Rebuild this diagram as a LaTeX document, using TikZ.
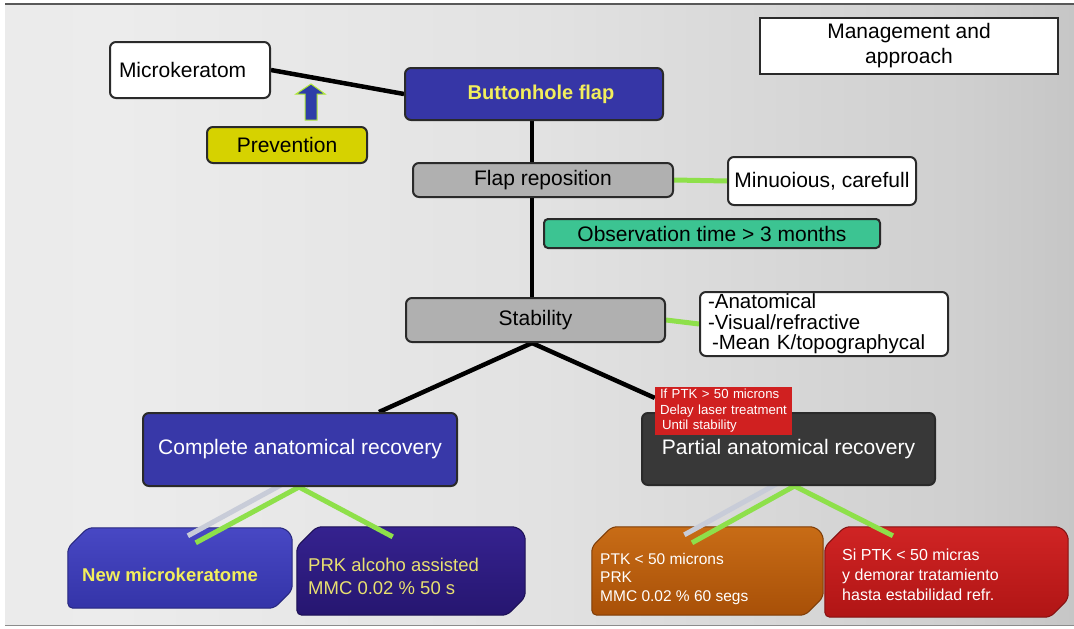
\documentclass[tikz,border=0pt]{standalone}
\usepackage{fontspec}
\setmainfont{Liberation Sans}
\usetikzlibrary{calc}
\pgfdeclarelayer{back}
\pgfdeclarelayer{mid}
\pgfsetlayers{back,mid,main}
\definecolor{bgA}{HTML}{A8A8A8}
\definecolor{bgA2}{HTML}{D2D2D2}
\definecolor{bgB}{HTML}{E6E6E6}
\definecolor{bgB2}{HTML}{ECECEC}
\definecolor{bgC}{HTML}{E2E2E2}
\definecolor{bgD}{HTML}{CFCFCF}
\definecolor{bgE}{HTML}{B4B4B4}
\definecolor{bgF}{HTML}{9A9A9A}
\definecolor{bgG}{HTML}{6C6C6C}
\pgfdeclarehorizontalshading{bgsh}{100bp}{color(0bp)=(bgA); color(3bp)=(bgA2); color(8bp)=(bgB); color(30bp)=(bgB2); color(50bp)=(bgC); color(70bp)=(bgD); color(85bp)=(bgE); color(93bp)=(bgF); color(100bp)=(bgG)}
\definecolor{edge}{HTML}{2A2A2A}
\definecolor{bhblue}{HTML}{3636A6}
\definecolor{ytext}{HTML}{F2EE5C}
\definecolor{prevy}{HTML}{D6D200}
\definecolor{gbox}{HTML}{B0B0B0}
\definecolor{obsteal}{HTML}{3CC492}
\definecolor{compblue}{HTML}{3838A8}
\definecolor{partdark}{HTML}{383838}
\definecolor{notered}{HTML}{D02020}
\definecolor{lgreen}{HTML}{8EE04A}
\definecolor{lshade}{HTML}{C8CCD8}
\definecolor{arrblue}{HTML}{2E3EA8}
\definecolor{nmtop}{HTML}{4848C4}
\definecolor{nmbot}{HTML}{3434A8}
\definecolor{prktop}{HTML}{35228F}
\definecolor{prkbot}{HTML}{261670}
\definecolor{ptktop}{HTML}{C86C16}
\definecolor{ptkbot}{HTML}{A85008}
\definecolor{sitop}{HTML}{D02424}
\definecolor{sibot}{HTML}{B01515}
\definecolor{prktext}{HTML}{E8E070}
\newcommand\chamfbox[3]{%
  \shade[top color=#2, bottom color=#3, draw=#3!75!black, line width=1pt, rounded corners=5pt]
  ($(#1.north west)+(20,0)$) -- ($(#1.north east)+(-8,0)$) -- ($(#1.north east)+(0,8)$)
  -- ($(#1.south east)+(0,-18)$) -- ($(#1.south east)+(-18,0)$) -- (#1.south west)
  -- ($(#1.north west)+(0,20)$) -- cycle;}
\begin{document}
\begin{tikzpicture}[x=1pt,y=-1pt,
  blk/.style={line width=4.5pt, draw=black},
  grn/.style={line width=5pt, draw=lgreen},
  shd/.style={line width=5pt, draw=lshade},
  bx/.style={draw=edge, line width=2pt, rounded corners=6pt, inner sep=0pt,
    font=\fontsize{21}{24}\selectfont, align=center},
  slot/.style={inner sep=0pt, draw=none},
  btxt/.style={anchor=west, inner sep=0pt, align=left}]
\useasboundingbox (0,0) rectangle (1074,629);
\begin{pgfonlayer}{back}
  \shade[shading=bgsh] (5,4) rectangle (1074,625);
  \draw[line width=1.5pt, draw=black!65] (5,4) -- (1074,4);
  \draw[line width=1pt, draw=black!45] (5,625) -- (1074,625);
\end{pgfonlayer}

% top part
\node[bx, fill=white, minimum width=160pt, minimum height=56pt, text width=142pt, align=left] (mk) at (190,70) {Microkeratom};
\node[bx, fill=bhblue, text=ytext, font=\fontsize{20}{24}\selectfont\bfseries, minimum width=258pt, minimum height=52pt] (bh) at (534,94) {\hspace*{14pt}Buttonhole flap};
\node[bx, fill=prevy, minimum width=160pt, minimum height=36pt] (prev) at (287,145) {Prevention};
\node[draw=edge, line width=2pt, fill=white, minimum width=298pt, minimum height=56pt, inner sep=0pt, align=center, font=\fontsize{21}{25}\selectfont] (mg) at (909,46) {Management and\\approach};
\node[bx, fill=gbox, minimum width=260pt, minimum height=34pt] (flap) at (543,180) {Flap reposition};
\node[bx, fill=white, minimum width=188pt, minimum height=48pt] (minu) at (822,181) {Minuoious, carefull};
\node[bx, fill=obsteal, rounded corners=4pt, minimum width=336pt, minimum height=29pt] (obs) at (712,233.5) {Observation time > 3 months};
\node[bx, fill=gbox, minimum width=259pt, minimum height=44pt] (stab) at (535.5,320) {Stability};
\node[bx, fill=white, minimum width=248pt, minimum height=64pt, text width=232pt, align=left, font=\fontsize{20.5}{20.5}\selectfont] (bul) at (824,324) {-Anatomical\\-Visual/refractive\\\hspace*{4pt}-Mean K/topographycal};

% arrow
\fill[arrblue, draw=lgreen!70!yellow, line width=1pt] (305,120) -- (317,120) -- (317,94) -- (325,94) -- (311,84) -- (296,94) -- (305,94) -- cycle;

% middle
\node[bx, fill=compblue, text=white, minimum width=314pt, minimum height=73pt] (comp) at (300,449.5) {Complete anatomical recovery};
\node[bx, fill=partdark, text=white, minimum width=293pt, minimum height=72pt] (part) at (788.5,449) {Partial anatomical recovery};
\node[fill=notered, minimum width=137pt, minimum height=48pt, inner sep=0pt, text width=127pt, align=left, text=white, font=\fontsize{13.2}{15.5}\selectfont] (note) at (723.5,411) {If PTK > 50 microns\\Delay laser treatment\\\hspace*{2pt}Until stability};

% bottom boxes (slots)
\node[slot, minimum width=224pt, minimum height=80pt] (nm) at (180,568) {};
\node[slot, minimum width=228pt, minimum height=88pt] (prk) at (411,571) {};
\node[slot, minimum width=231pt, minimum height=88pt] (ptk) at (707.5,571) {};
\node[slot, minimum width=243pt, minimum height=90pt] (si) at (946.5,572) {};

\node[btxt, text=ytext, font=\fontsize{18.5}{22}\selectfont\bfseries] (nmt) at (82,575) {New microkeratome};
\node[btxt, text=prktext, font=\fontsize{18.5}{23}\selectfont] (prkt) at (308,576.5) {PRK alcoho assisted\\MMC 0.02 \% 50 s};
\node[btxt, text=white, font=\fontsize{15.5}{18.5}\selectfont] (ptkt) at (600,578.5) {PTK < 50 microns\\PRK\\MMC 0.02 \% 60 segs};
\node[btxt, text=white, font=\fontsize{16}{20}\selectfont] (sit) at (842,575) {Si PTK < 50 micras\\y demorar tratamiento\\hasta estabilidad refr.};

\begin{pgfonlayer}{mid}
  \chamfbox{nm}{nmtop}{nmbot}
  \chamfbox{prk}{prktop}{prkbot}
  \chamfbox{ptk}{ptktop}{ptkbot}
  \chamfbox{si}{sitop}{sibot}
  \coordinate (tx) at (532,0);
  % black connectors
  \draw[blk] (mk.east) -- (bh.west);
  \draw[blk] (bh.south -| tx) -- (flap.north -| tx);
  \draw[blk] (flap.south -| tx) -- (stab.north -| tx);
  \draw[blk] (stab.south -| tx) -- ($(comp.north west)!0.75!(comp.north east)$);
  \draw[blk] (stab.south -| tx) -- ($(note.north west)!0.23!(note.south west)$);
  % green side connectors
  \draw[grn] (flap.east) -- (minu.west);
  \draw[grn] (stab.east) -- (bul.west);
  % complete -> children
  \coordinate (cb) at ($(comp.south)+(-1,0)$);
  \draw[shd] ($(cb)+(-9,-7)$) -- ($(nm.north west)!0.535!(nm.north east)+(0,8)$);
  \draw[shd] ($(cb)+(4,-7)$) -- ($(cb)+(10,-1)$);
  \draw[grn] (cb) -- ($(nm.north west)!0.57!(nm.north east)+(0,15)$);
  \draw[grn] (cb) -- ($(prk.north west)!0.42!(prk.north east)+(0,10)$);
  % partial -> children
  \coordinate (pb) at ($(part.south)+(6,0)$);
  \draw[shd] ($(pb)+(-9,-7)$) -- ($(ptk.north west)!0.4!(ptk.north east)+(0,8)$);
  \draw[shd] ($(pb)+(4,-7)$) -- ($(pb)+(10,-1)$);
  \draw[grn] (pb) -- ($(ptk.north west)!0.433!(ptk.north east)+(0,16)$);
  \draw[grn] (pb) -- ($(si.north west)!0.28!(si.north east)+(0,9)$);
\end{pgfonlayer}
\end{tikzpicture}
\end{document}
